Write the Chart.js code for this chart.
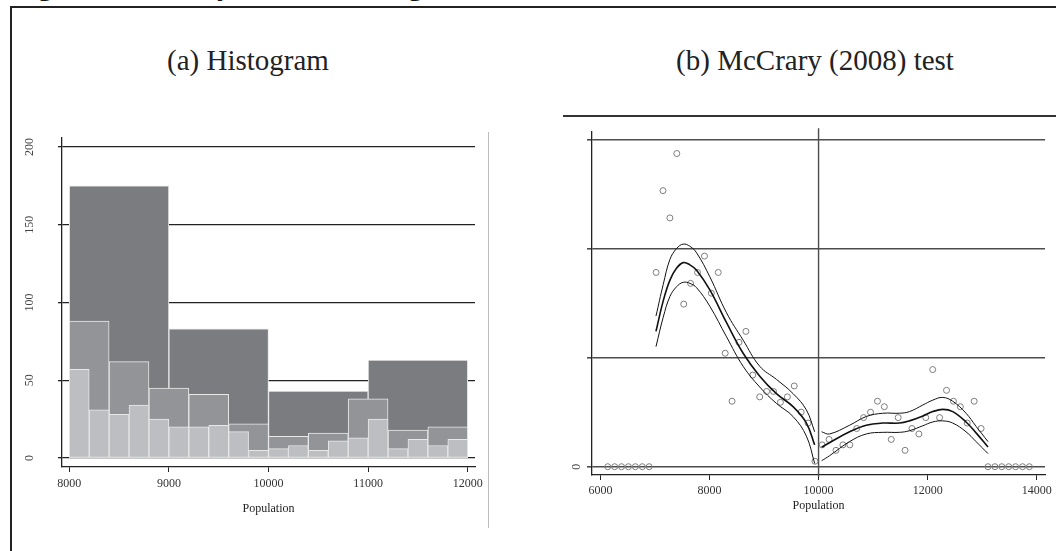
<!DOCTYPE html>
<html>
<head>
<meta charset="utf-8">
<script src="https://cdn.jsdelivr.net/npm/chart.js@4.4.1/dist/chart.umd.min.js"></script>
<style>
html, body { margin: 0; padding: 0; background: #fff; width: 1056px; height: 551px; overflow: hidden; position: relative; font-family: "Liberation Serif", serif; }
.abs { position: absolute; }
#fig { left: 11px; top: -30px; font-weight: bold; font-size: 30px; line-height: 30px; white-space: nowrap; color: #111; }
#frame { left: 10px; top: 6px; width: 1070px; height: 570px; border-left: 2px solid #222; border-top: 2px solid #222; }
.ptitle { top: 43px; font-size: 29px; line-height: 34px; color: #222; white-space: nowrap; transform: translateX(-50%); }
#sep { left: 488px; top: 132px; width: 1px; height: 396px; background: #bdbdbd; }
#topline { left: 563px; top: 115px; width: 500px; height: 1.5px; background: #333; }
#histWrap { left: 0; top: 120px; }
#mccWrap { left: 560px; top: 100px; }
</style>
</head>
<body>
<div id="fig" class="abs">Figure 3: Density of the running variable</div>
<div id="frame" class="abs"></div>
<div class="abs ptitle" style="left:248px">(a) Histogram</div>
<div class="abs ptitle" style="left:815px">(b) McCrary (2008) test</div>
<div id="sep" class="abs"></div>
<div id="topline" class="abs"></div>
<div id="histWrap" class="abs"><canvas id="hist" width="490" height="420"></canvas></div>
<div id="mccWrap" class="abs"><canvas id="mcc" width="496" height="440"></canvas></div>

<script>
// ---- panel (a): histogram data ----
var histTicksX = [8000, 9000, 10000, 11000, 12000];
var histTicksY = [0, 50, 100, 150, 200];

// bin left edges and counts, three bin widths
var darkBins = [8000, 9000, 10000, 11000];
var darkCounts = [175, 83, 43, 63];
var midBins = [8000, 8400, 8800, 9200, 9600, 10000, 10400, 10800, 11200, 11600];
var midCounts = [88, 62, 45, 41, 22, 14, 16, 38, 18, 20];
var lightBins = [8000, 8200, 8400, 8600, 8800, 9000, 9200, 9400, 9600, 9800,
                 10000, 10200, 10400, 10600, 10800, 11000, 11200, 11400, 11600, 11800];
var lightCounts = [57, 31, 28, 34, 25, 20, 20, 21, 17, 5,
                   6, 8, 5, 11, 13, 25, 6, 12, 8, 12];

// ---- panel (b): McCrary test data ----
var mccTicksX = [6000, 8000, 10000, 12000, 14000];
var mccTicksY = [0, 1, 2, 3];
var cutoff = 10000;

var leftBinX = [6134, 6261, 6388, 6514, 6641, 6768, 6894, 7021, 7148, 7274, 7401,
                7528, 7654, 7781, 7908, 8034, 8161, 8288, 8414, 8541, 8668, 8794,
                8921, 9048, 9174, 9301, 9428, 9554, 9681, 9808, 9934];
var leftBinY = [0, 0, 0, 0, 0, 0, 0, 1.78, 2.53, 2.28, 2.87,
                1.49, 1.68, 1.78, 1.93, 1.59, 1.78, 1.04, 0.60, 1.14, 1.24, 0.84,
                0.64, 0.69, 0.69, 0.59, 0.64, 0.74, 0.50, 0.40, 0.05];
var rightBinX = [10066, 10193, 10320, 10446, 10573, 10700, 10826, 10953, 11080, 11206,
                 11333, 11460, 11586, 11713, 11840, 11966, 12093, 12220, 12346, 12473,
                 12600, 12726, 12853, 12980, 13106, 13233, 13360, 13486, 13613, 13740, 13866];
var rightBinY = [0.20, 0.25, 0.15, 0.20, 0.20, 0.35, 0.45, 0.50, 0.60, 0.55,
                 0.25, 0.45, 0.15, 0.35, 0.30, 0.45, 0.89, 0.45, 0.70, 0.60,
                 0.55, 0.40, 0.60, 0.35, 0, 0, 0, 0, 0, 0, 0];

var fitLeftX = [7019, 7152, 7275, 7398, 7519, 7641, 7764, 8007, 8313, 8617, 8922, 9228, 9532, 9777, 9929];
var fitLeftMid = [1.24, 1.52, 1.71, 1.82, 1.87, 1.85, 1.80, 1.62, 1.32, 1.04, 0.83, 0.67, 0.55, 0.40, 0.20];
var fitLeftHi = [1.38, 1.67, 1.90, 2.00, 2.04, 2.02, 1.96, 1.74, 1.41, 1.16, 0.92, 0.80, 0.67, 0.52, 0.32];
var fitLeftLo = [1.10, 1.37, 1.56, 1.65, 1.69, 1.68, 1.64, 1.47, 1.19, 0.92, 0.73, 0.58, 0.46, 0.28, 0.03];

var fitRightX = [10057, 10200, 10569, 10875, 11179, 11484, 11667, 11911, 12094, 12277, 12460, 12704, 12888, 13107];
var fitRightMid = [0.18, 0.22, 0.32, 0.38, 0.40, 0.40, 0.42, 0.465, 0.505, 0.525, 0.505, 0.41, 0.31, 0.18];
var fitRightHi = [0.32, 0.30, 0.38, 0.46, 0.49, 0.49, 0.505, 0.565, 0.61, 0.635, 0.60, 0.49, 0.37, 0.23];
var fitRightLo = [0.055, 0.10, 0.23, 0.30, 0.315, 0.315, 0.33, 0.375, 0.41, 0.42, 0.40, 0.32, 0.23, 0.12];

var serif = "'Liberation Serif', serif";
var dark = '#7b7c80';
var mid = '#939497';
var light = '#bdbec1';
var edge = '#e8e8e8';
var ink = '#222';

function pts(xs, ys) {
  return xs.map(function (x, i) { return { x: x, y: ys[i] }; });
}
function binPts(bins, counts) {
  var w = bins[1] - bins[0];
  return bins.map(function (b, i) { return { x: b + w / 2, y: counts[i] }; });
}
function fixedTicks(list) {
  return function (s) { s.ticks = list.map(function (v) { return { value: v }; }); };
}
function barSet(data, color, axis, order) {
  return {
    type: 'bar', data: data, xAxisID: axis, backgroundColor: color,
    borderColor: edge, borderWidth: 1, borderSkipped: false,
    barPercentage: 1, categoryPercentage: 1, grouped: false, order: order
  };
}

// rotated y labels, drawn at a fixed column
function yLabels(id, xPos, labelOf) {
  return {
    id: id,
    afterDraw: function (chart) {
      var c = chart.ctx, y = chart.scales.y;
      c.save();
      c.font = '12px ' + serif;
      c.fillStyle = '#444';
      c.textAlign = 'center';
      c.textBaseline = 'middle';
      y.ticks.forEach(function (t) {
        var txt = labelOf(t.value);
        if (txt === '') return;
        c.save();
        c.translate(xPos, y.getPixelForValue(t.value));
        c.rotate(-Math.PI / 2);
        c.fillText(txt, 0, 0);
        c.restore();
      });
      c.restore();
    }
  };
}

Chart.defaults.font.family = serif;
Chart.defaults.color = '#333';

// ---- panel (a) ----
var xLim = { min: 7927, max: 12073 };
function hiddenX() {
  return { type: 'linear', display: false, offset: false, min: xLim.min, max: xLim.max, afterBuildTicks: fixedTicks(histTicksX) };
}
new Chart(document.getElementById('hist'), {
  type: 'bar',
  data: {
    datasets: [
      barSet(binPts(darkBins, darkCounts), dark, 'x', 3),
      barSet(binPts(midBins, midCounts), mid, 'xm', 2),
      barSet(binPts(lightBins, lightCounts), light, 'xl', 1)
    ]
  },
  options: {
    responsive: false,
    animation: false,
    layout: { padding: { top: 18, right: 15, left: 0, bottom: 0 } },
    plugins: { legend: { display: false }, tooltip: { enabled: false } },
    scales: {
      x: {
        type: 'linear', offset: false, min: xLim.min, max: xLim.max, afterBuildTicks: fixedTicks(histTicksX),
        grid: { offset: false, drawOnChartArea: false, drawTicks: true, tickLength: 5, color: ink, lineWidth: 1 },
        border: { display: true, color: ink, width: 1.3 },
        ticks: { font: { size: 12 }, padding: 5, maxRotation: 0, callback: function (v) { return String(v); } },
        title: { display: true, text: 'Population', font: { size: 12 }, color: ink, padding: { top: 0, bottom: 24 } },
        afterFit: function (s) { s.height = 73; }
      },
      xm: hiddenX(),
      xl: hiddenX(),
      y: {
        min: -5.8, max: 205.8, afterBuildTicks: fixedTicks(histTicksY),
        grid: { color: ink, lineWidth: 1.3, tickLength: 4, drawTicks: true },
        border: { display: true, color: ink, width: 1.3 },
        ticks: { display: false },
        afterFit: function (s) { s.width = 62; }
      }
    }
  },
  plugins: [yLabels('histY', 30, function (v) { return String(v); })]
});

// ---- panel (b) ----
var cutoffLine = {
  id: 'cutoffLine',
  beforeDatasetsDraw: function (chart) {
    var c = chart.ctx, a = chart.chartArea;
    var px = chart.scales.x.getPixelForValue(cutoff);
    c.save();
    c.strokeStyle = '#4d4d4d';
    c.lineWidth = 1.4;
    c.beginPath();
    c.moveTo(px, a.top - 3.5);
    c.lineTo(px, a.bottom + 2);
    c.stroke();
    c.restore();
  }
};

function dots(xs, ys) {
  return {
    type: 'scatter', data: pts(xs, ys), pointRadius: 3, pointBorderWidth: 1,
    pointBorderColor: '#7d7d7d', pointBackgroundColor: 'rgba(0,0,0,0)', showLine: false, order: 2
  };
}
function curve(xs, ys, w) {
  return {
    type: 'line', data: pts(xs, ys), borderColor: '#111', borderWidth: w,
    pointRadius: 0, tension: 0.4, fill: false, order: 1
  };
}

new Chart(document.getElementById('mcc'), {
  type: 'scatter',
  data: {
    datasets: [
      dots(leftBinX, leftBinY),
      dots(rightBinX, rightBinY),
      curve(fitLeftX, fitLeftHi, 1),
      curve(fitLeftX, fitLeftMid, 1.6),
      curve(fitLeftX, fitLeftLo, 1),
      curve(fitRightX, fitRightHi, 1),
      curve(fitRightX, fitRightMid, 1.6),
      curve(fitRightX, fitRightLo, 1)
    ]
  },
  options: {
    responsive: false,
    animation: false,
    layout: { padding: { top: 31.7, right: 11, left: 0, bottom: 0 } },
    plugins: { legend: { display: false }, tooltip: { enabled: false } },
    scales: {
      x: {
        type: 'linear', min: 5846, max: 14152, afterBuildTicks: fixedTicks(mccTicksX),
        grid: { drawOnChartArea: false, drawTicks: true, tickLength: 5, color: ink, lineWidth: 1 },
        border: { display: true, color: ink, width: 1.3 },
        ticks: { font: { size: 12 }, padding: 4, maxRotation: 0, callback: function (v) { return String(v); } },
        title: { display: true, text: 'Population', font: { size: 12 }, color: ink, padding: { top: 0, bottom: 27 } },
        afterFit: function (s) { s.height = 65; }
      },
      y: {
        min: -0.076, max: 3.07, afterBuildTicks: fixedTicks(mccTicksY),
        grid: { color: '#4d4d4d', lineWidth: 1.6, tickLength: 5, drawTicks: true },
        border: { display: true, color: ink, width: 1.3 },
        ticks: { display: false },
        afterFit: function (s) { s.width = 32; }
      }
    }
  },
  plugins: [cutoffLine, yLabels('mccY', 16.7, function (v) { return v === 0 ? '0' : ''; })]
});
</script>
</body>
</html>
